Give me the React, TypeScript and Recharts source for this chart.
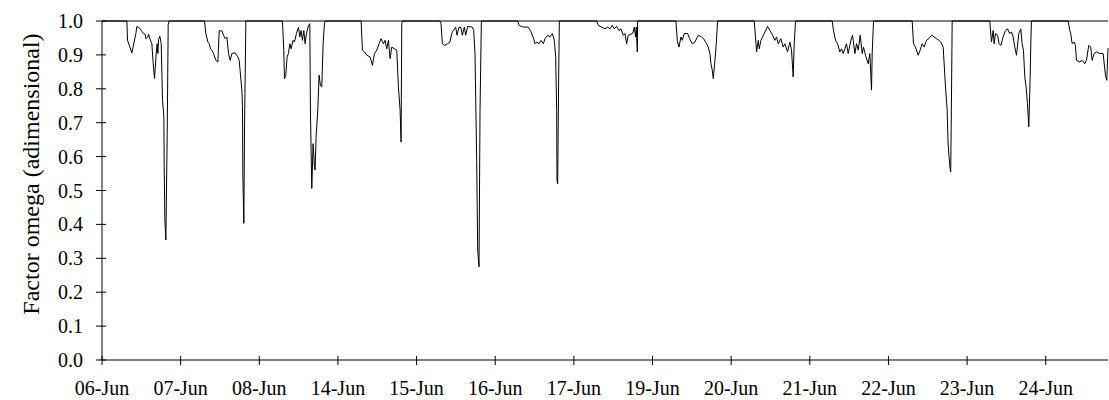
import { Line, LineChart, ReferenceLine, XAxis, YAxis } from "recharts"

// day labels shown under the ticks (one tick per day start)
const days = ["06-Jun", "07-Jun", "08-Jun", "14-Jun", "15-Jun", "16-Jun", "17-Jun", "19-Jun", "20-Jun", "21-Jun", "22-Jun", "23-Jun", "24-Jun"]

// [hour of day, omega], one array per day
const jun06 = [[0, 1], [7.59, 1], [7.79, 0.943], [9.12, 0.906], [10.34, 0.963], [10.64, 0.984], [11.35, 0.98], [11.96, 0.972], [12.68, 0.963], [13.19, 0.961], [13.39, 0.948], [14.0, 0.953], [14.2, 0.961], [14.71, 0.945], [15.22, 0.933], [15.63, 0.874], [16.03, 0.83], [16.54, 0.904], [16.85, 0.933], [17.05, 0.904], [17.25, 0.945], [17.66, 0.955], [18.07, 0.933], [18.47, 0.766], [18.88, 0.717], [18.98, 0.57], [19.19, 0.41], [19.49, 0.354], [19.9, 0.668], [20.2, 0.99], [20.5, 1]]
const jun07 = [[7.29, 1], [7.7, 0.963], [8.31, 0.938], [8.71, 0.933], [9.12, 0.918], [9.53, 0.914], [10.03, 0.904], [10.75, 0.884], [11.36, 0.879], [11.76, 0.971], [12.58, 0.971], [13.09, 0.958], [13.59, 0.948], [14.1, 0.953], [14.61, 0.904], [15.12, 0.884], [15.63, 0.904], [16.65, 0.906], [17.46, 0.894], [17.87, 0.884], [18.68, 0.796], [18.88, 0.747], [18.99, 0.54], [19.29, 0.403], [19.5, 0.688], [19.9, 1]]
const jun08 = [[7.07, 1], [7.47, 0.914], [7.68, 0.83], [8.09, 0.84], [8.49, 0.894], [8.9, 0.904], [9.31, 0.933], [9.71, 0.918], [10.32, 0.943], [10.73, 0.938], [11.34, 0.963], [11.95, 0.982], [12.36, 0.953], [12.76, 0.972], [13.17, 0.943], [13.58, 0.972], [13.98, 0.933], [14.39, 0.963], [15.0, 0.987], [15.41, 0.992], [15.61, 0.737], [15.81, 0.619], [16.02, 0.506], [16.42, 0.638], [16.83, 0.57], [17.03, 0.56], [17.34, 0.658], [17.85, 0.737], [18.25, 0.84], [18.66, 0.81], [19.07, 0.805], [19.48, 0.933], [19.88, 0.992], [20.1, 1]]
const jun14 = [[7.07, 1], [7.48, 0.914], [8.09, 0.909], [8.8, 0.899], [9.82, 0.894], [10.53, 0.869], [11.14, 0.904], [11.85, 0.914], [12.56, 0.933], [13.17, 0.948], [13.88, 0.933], [14.39, 0.943], [14.9, 0.918], [15.41, 0.943], [15.92, 0.889], [16.43, 0.923], [17.24, 0.918], [17.95, 0.914], [18.46, 0.805], [18.97, 0.737], [19.27, 0.643], [19.38, 0.835], [19.48, 0.992], [19.7, 1]]
const jun15 = [[7.16, 1], [7.46, 0.992], [7.87, 0.933], [8.48, 0.928], [9.5, 0.933], [10.21, 0.938], [10.72, 0.963], [11.22, 0.972], [11.93, 0.982], [12.34, 0.958], [12.95, 0.982], [13.56, 0.98], [13.97, 0.958], [14.58, 0.982], [14.99, 0.958], [15.6, 0.984], [17.02, 0.982], [17.43, 0.972], [17.83, 0.904], [18.34, 0.589], [18.65, 0.324], [19.05, 0.275], [19.36, 0.737], [19.77, 1]]
const jun16 = [[6.85, 1], [7.26, 0.987], [8.58, 0.982], [10.1, 0.982], [10.92, 0.968], [11.73, 0.948], [12.14, 0.933], [12.65, 0.938], [13.36, 0.933], [13.97, 0.943], [14.68, 0.933], [15.19, 0.948], [16.0, 0.958], [16.71, 0.953], [17.43, 0.963], [18.04, 0.943], [18.45, 0.894], [18.75, 0.737], [18.85, 0.53], [19.06, 0.52], [19.36, 0.835], [19.57, 1]]
const jun17 = [[6.96, 1], [7.46, 0.987], [8.48, 0.982], [9.49, 0.977], [10.3, 0.982], [11.02, 0.977], [11.73, 0.987], [12.34, 0.977], [13.05, 0.984], [13.76, 0.972], [14.37, 0.977], [15.08, 0.958], [15.59, 0.963], [16.1, 0.933], [16.61, 0.958], [17.42, 0.961], [18.03, 0.965], [18.44, 0.982], [18.84, 0.953], [19.05, 0.982], [19.35, 0.909], [19.46, 1]]
const jun19 = [[7.15, 1], [7.56, 0.943], [8.07, 0.923], [8.68, 0.953], [9.08, 0.943], [9.69, 0.963], [10.71, 0.963], [11.32, 0.948], [12.13, 0.933], [12.94, 0.938], [13.96, 0.958], [14.98, 0.953], [15.59, 0.948], [16.5, 0.933], [17.01, 0.923], [17.52, 0.904], [17.83, 0.874], [18.23, 0.855], [18.54, 0.83], [19.05, 0.884], [19.46, 0.933], [19.86, 1]]
const jun20 = [[7.05, 1], [7.76, 0.909], [8.27, 0.943], [8.58, 0.918], [9.08, 0.943], [10.1, 0.963], [11.12, 0.984], [11.83, 0.972], [12.65, 0.958], [13.34, 0.943], [13.85, 0.953], [14.36, 0.933], [15.17, 0.948], [15.88, 0.923], [16.39, 0.933], [17.2, 0.909], [17.92, 0.938], [18.42, 0.914], [18.93, 0.835], [19.24, 0.933], [19.65, 1]]
const jun21 = [[6.83, 1], [7.24, 0.972], [7.85, 0.943], [8.46, 0.933], [9.17, 0.909], [9.68, 0.918], [10.19, 0.904], [10.7, 0.918], [11.2, 0.933], [11.71, 0.904], [12.53, 0.943], [13.04, 0.958], [13.75, 0.904], [14.26, 0.933], [14.77, 0.914], [15.38, 0.958], [15.99, 0.904], [16.39, 0.923], [17.0, 0.899], [17.82, 0.874], [18.33, 0.904], [18.83, 0.796], [19.04, 0.904], [19.45, 1]]
const jun22 = [[7.24, 1], [7.65, 0.933], [8.26, 0.923], [9.07, 0.899], [9.68, 0.914], [10.29, 0.933], [10.9, 0.923], [11.61, 0.943], [12.33, 0.948], [13.14, 0.958], [13.95, 0.953], [14.66, 0.948], [15.38, 0.943], [15.99, 0.938], [16.7, 0.923], [17.41, 0.805], [17.9, 0.74], [18.2, 0.64], [18.5, 0.6], [18.8, 0.565], [19.0, 0.555], [19.2, 0.74], [19.45, 1]]
const jun23 = [[6.93, 1], [7.44, 0.938], [7.95, 0.972], [8.25, 0.933], [8.66, 0.963], [9.27, 0.958], [9.78, 0.933], [10.29, 0.928], [11.0, 0.953], [11.71, 0.972], [12.32, 0.977], [13.03, 0.963], [13.54, 0.968], [14.05, 0.953], [14.56, 0.923], [15.07, 0.899], [15.78, 0.963], [16.39, 0.977], [16.79, 0.933], [17.2, 0.914], [17.61, 0.835], [18.01, 0.805], [18.42, 0.756], [18.83, 0.688], [19.24, 0.835], [19.44, 0.933], [19.64, 1]]
const jun24 = [[6.83, 1], [7.34, 0.972], [7.64, 0.963], [8.05, 0.933], [8.66, 0.938], [9.07, 0.928], [9.37, 0.884], [10.39, 0.879], [11.1, 0.884], [11.91, 0.874], [12.42, 0.884], [13.13, 0.928], [13.74, 0.923], [14.15, 0.884], [14.76, 0.904], [15.47, 0.909], [16.49, 0.904], [17.51, 0.904], [18.22, 0.84], [18.63, 0.825], [19.0, 0.92]]

const perDay = [jun06, jun07, jun08, jun14, jun15, jun16, jun17, jun19, jun20, jun21, jun22, jun23, jun24]

const xTicks = [0, 24, 48, 72, 96, 120, 144, 168, 192, 216, 240, 264, 288]
const yTicks = [0, 0.1, 0.2, 0.3, 0.4, 0.5, 0.6, 0.7, 0.8, 0.9, 1.0]

const data = perDay.flatMap((pts, i) => pts.map(([h, v]) => ({ t: i * 24 + h, omega: v })))

const FONT = '"Times New Roman", "Liberation Serif", serif'

function XTick(props: any) {
  const { x, y, payload } = props
  return (
    <g>
      <line x1={x} x2={x} y1={y - 4} y2={y + 5} stroke="#000" />
      <text x={x} y={y + 35} textAnchor="middle" fontSize={20} fontFamily={FONT} fill="#000">
        {days[Math.round(payload.value / 24)]}
      </text>
    </g>
  )
}

function YTick(props: any) {
  const { x, y, payload } = props
  return (
    <g>
      <line x1={x - 6} x2={x + 4} y1={y} y2={y} stroke="#000" />
      <text x={x - 19} y={y + 7} textAnchor="end" fontSize={20} fontFamily={FONT} fill="#000">
        {Number(payload.value).toFixed(1)}
      </text>
    </g>
  )
}

const YTitle = () => (
  <text
    x={31}
    y={174}
    transform="rotate(-90 31 174)"
    textAnchor="middle"
    dominantBaseline="central"
    fontSize={24}
    fontFamily={FONT}
    fill="#000"
  >
    Factor omega (adimensional)
  </text>
)

export default function App() {
  return (
    <div style={{ position: "absolute", left: 0, top: 0, background: "#fff" }}>
      <LineChart width={1109} height={400} data={data} margin={{ top: 21, right: 1, bottom: 0, left: 0 }}>
        <XAxis
          dataKey="t"
          type="number"
          domain={[0, 307]}
          ticks={xTicks}
          interval={0}
          height={40}
          tickSize={0}
          tickMargin={0}
          tickLine={false}
          tick={<XTick />}
          axisLine={{ stroke: "#000" }}
        />
        <YAxis
          type="number"
          domain={[0, 1]}
          ticks={yTicks}
          interval={0}
          width={102}
          tickSize={0}
          tickMargin={0}
          tickLine={false}
          tick={<YTick />}
          axisLine={{ stroke: "#000" }}
          label={{ content: () => <YTitle /> }}
        />
        <ReferenceLine y={1} stroke="#000" />
        <Line type="linear" dataKey="omega" stroke="#000" strokeWidth={1} dot={false} isAnimationActive={false} />
      </LineChart>
    </div>
  )
}
